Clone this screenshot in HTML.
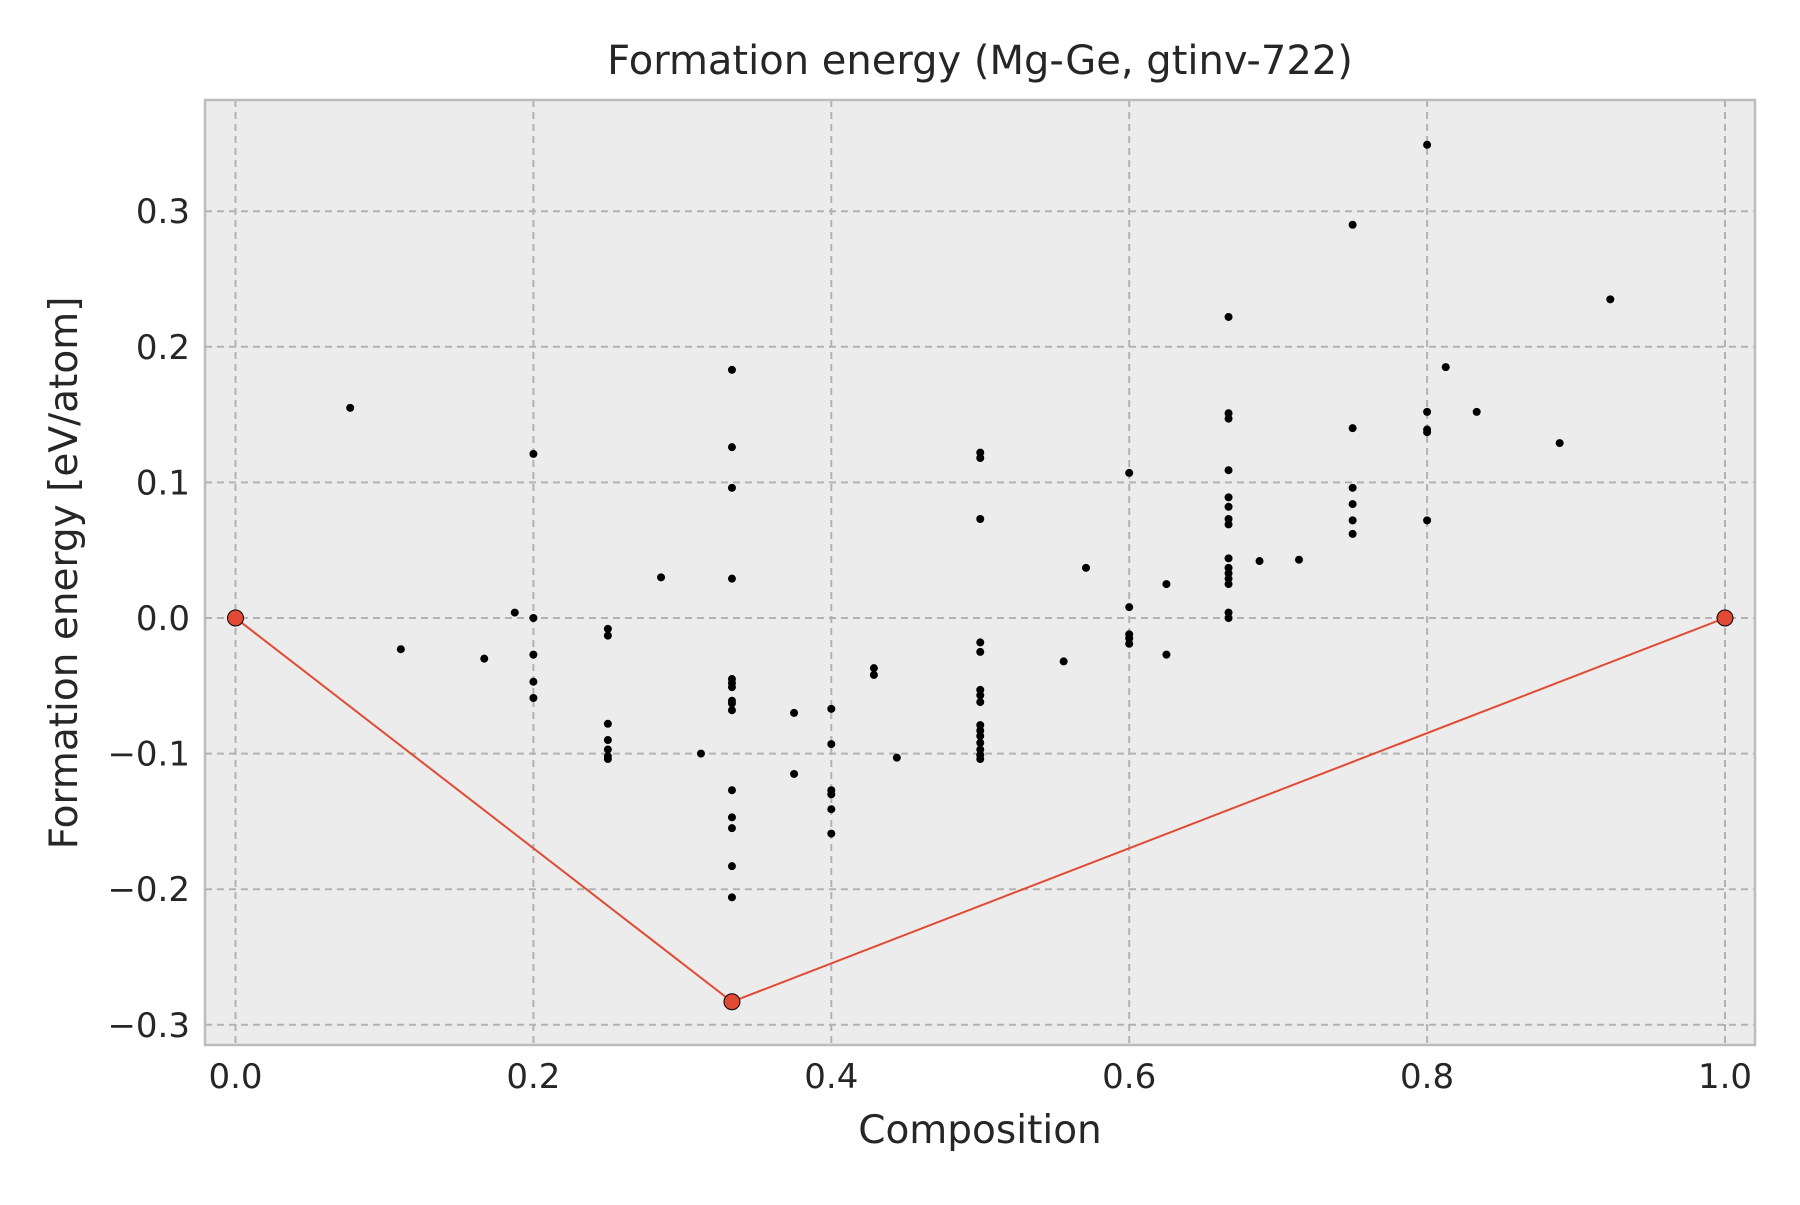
<!DOCTYPE html>
<html><head><meta charset="utf-8"><style>
html,body{margin:0;padding:0;background:#fff}
svg text{font-family:"DejaVu Sans","Liberation Sans",sans-serif;fill:#262626}
</style></head><body>
<svg width="1800" height="1200" viewBox="0 0 1800 1200" xmlns="http://www.w3.org/2000/svg">
<rect x="205" y="100" width="1550" height="945" fill="#ececec"/>
<g id="grid"></g>
<g id="ticks"></g>
<g id="hull"></g>
<g id="pts"></g>
<rect x="205" y="100" width="1550" height="945" fill="none" stroke="#bcbcbc" stroke-width="2.5"/>
<text x="980" y="74" font-size="40" text-anchor="middle">Formation energy (Mg-Ge, gtinv-722)</text>
<text x="980" y="1143" font-size="39" text-anchor="middle">Composition</text>
<text x="0" y="0" font-size="39" text-anchor="middle" transform="translate(77,573) rotate(-90)">Formation energy [eV/atom]</text>
</svg>
<script>
const xTicks=[0,0.2,0.4,0.6,0.8,1.0];
const yTicks=[-0.3,-0.2,-0.1,0,0.1,0.2,0.3];
const hullX=[0,0.3333,1];
const hullY=[0,-0.283,0];
const ptX=[0.077,0.111,0.167,0.1875,0.2,0.2,0.2,0.2,0.2,0.25,0.25,0.25,0.25,0.25,0.25,0.25,0.2857,0.3125,
0.3333,0.3333,0.3333,0.3333,0.3333,0.3333,0.3333,0.3333,0.3333,0.3333,0.3333,0.3333,0.3333,0.3333,0.3333,
0.375,0.375,0.4,0.4,0.4,0.4,0.4,0.4,0.4286,0.4286,0.444,
0.5,0.5,0.5,0.5,0.5,0.5,0.5,0.5,0.5,0.5,0.5,0.5,0.5,0.5,0.5,
0.556,0.571,0.6,0.6,0.6,0.6,0.6,0.625,0.625,
0.6667,0.6667,0.6667,0.6667,0.6667,0.6667,0.6667,0.6667,0.6667,0.6667,0.6667,0.6667,0.6667,0.6667,0.6667,
0.6875,0.714,0.75,0.75,0.75,0.75,0.75,0.75,0.8,0.8,0.8,0.8,0.8,0.8125,0.8333,0.889,0.923];
const ptY=[0.155,-0.023,-0.030,0.004,0.121,0.0,-0.027,-0.047,-0.059,-0.008,-0.013,-0.078,-0.090,-0.097,-0.102,-0.104,0.030,-0.100,
0.183,0.126,0.096,0.029,-0.045,-0.048,-0.051,-0.061,-0.063,-0.068,-0.127,-0.147,-0.155,-0.183,-0.206,
-0.070,-0.115,-0.067,-0.093,-0.127,-0.130,-0.141,-0.159,-0.037,-0.042,-0.103,
0.122,0.118,0.073,-0.018,-0.025,-0.053,-0.057,-0.062,-0.079,-0.083,-0.087,-0.092,-0.097,-0.101,-0.104,
-0.032,0.037,0.107,0.008,-0.012,-0.015,-0.019,0.025,-0.027,
0.222,0.151,0.147,0.109,0.089,0.082,0.073,0.069,0.044,0.037,0.033,0.029,0.025,0.004,0.0,
0.042,0.043,0.290,0.140,0.096,0.084,0.072,0.062,0.349,0.152,0.139,0.137,0.072,0.185,0.152,0.129,0.235];
const X=v=>235.5+v*1489.5;
const Y=v=>618-v*1356;
const NS="http://www.w3.org/2000/svg";
function mk(t,a,p){const e=document.createElementNS(NS,t);for(const k in a)e.setAttribute(k,a[k]);p.appendChild(e);return e;}
const grid=document.getElementById('grid'),ticks=document.getElementById('ticks');
xTicks.forEach(v=>{
 const l=mk('line',{x1:X(v),x2:X(v),y1:100,y2:1045,stroke:'#b2b2b2','stroke-width':2,'stroke-dasharray':'7,5'},grid);
 
 
 const t=mk('text',{x:X(v),y:1088,'font-size':34,'text-anchor':'middle'},ticks);
 t.textContent=v.toFixed(1);
 
 
});
yTicks.forEach(v=>{
 const l=mk('line',{x1:205,x2:1755,y1:Y(v),y2:Y(v),stroke:'#b2b2b2','stroke-width':2,'stroke-dasharray':'7,5'},grid);
 
 
 const t=mk('text',{x:190,y:Y(v)+12,'font-size':34,'text-anchor':'end'},ticks);
 t.textContent=(v<0?'\u2212':'')+Math.abs(v).toFixed(1);
 
 
});
const pts=document.getElementById('pts');
ptX.forEach((x,i)=>{
 const c=mk('circle',{cx:X(x),cy:Y(ptY[i]),r:4,fill:'#000'},pts);
 
 
});
const hull=document.getElementById('hull');
const pl=mk('polyline',{points:hullX.map((x,i)=>X(x)+','+Y(hullY[i])).join(' '),fill:'none',stroke:'#e24a33','stroke-width':2},hull);


hullX.forEach((x,i)=>{
 const c=mk('circle',{cx:X(x),cy:Y(hullY[i]),r:8,fill:'#e24a33',stroke:'#000','stroke-width':1},hull);
 
 
});
</script>
</body></html>
